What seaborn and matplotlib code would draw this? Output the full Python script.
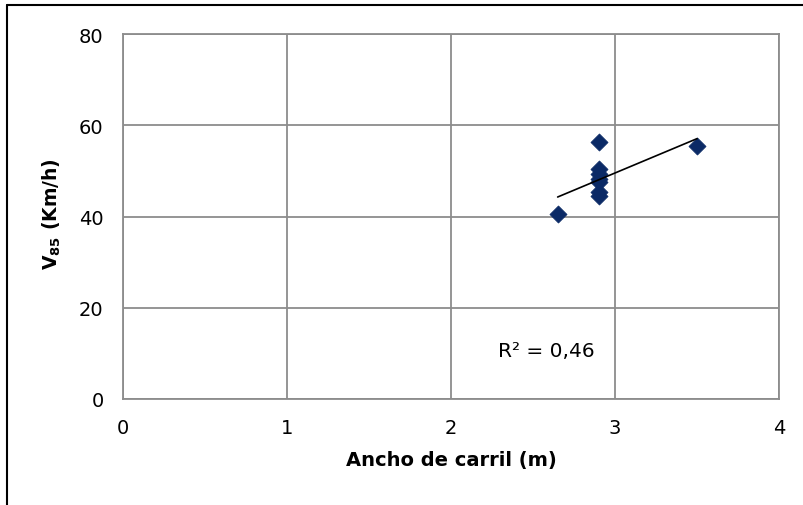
import matplotlib
matplotlib.use("Agg")
import matplotlib.pyplot as plt
import seaborn as sns
import pandas as pd
from matplotlib.lines import Line2D

# Lane width (m) vs. 85th-percentile speed (km/h)
ancho = [2.65, 2.9, 2.9, 2.9, 2.9, 2.9, 2.9, 2.9, 3.5]
v85 = [40.5, 56.3, 50.4, 49.3, 48.2, 47.5, 45.3, 44.6, 55.5]
x_ticks = [0, 1, 2, 3, 4]
y_ticks = [0, 20, 40, 60, 80]
r2_label = "R² = 0,46"

df = pd.DataFrame({"ancho": ancho, "v85": v85})

sns.set_theme(style="white")
plt.rcParams["font.family"] = ["DejaVu Sans"]
plt.rcParams["mathtext.fontset"] = "dejavusans"
plt.rcParams["text.color"] = "black"
plt.rcParams["axes.labelcolor"] = "black"

fig = plt.figure(figsize=(8.04, 5.06), dpi=100)
ax = fig.add_axes([0.153, 0.2095, 0.816, 0.7213])

sns.regplot(data=df, x="ancho", y="v85", ax=ax, ci=None, truncate=True,
            marker="D",
            scatter_kws=dict(s=76, color="#0b2a66", edgecolor="#0b2a66",
                             linewidths=0.5, alpha=1, zorder=3),
            line_kws=dict(color="black", linewidth=1.2, zorder=4))

ax.set_xlim(0, 4)
ax.set_ylim(0, 80)
ax.set_xticks(x_ticks)
ax.set_yticks(y_ticks)
ax.set_xticklabels([str(t) for t in x_ticks], fontsize=14)
ax.set_yticklabels([str(t) for t in y_ticks], fontsize=14)
ax.tick_params(axis="x", length=0, pad=14, colors="black")
ax.tick_params(axis="y", length=0, pad=14, colors="black")

ax.grid(True, color="#8c8c8c", linewidth=1.3)
ax.set_axisbelow(True)
for sp in ax.spines.values():
    sp.set_color("#8c8c8c")
    sp.set_linewidth(1.3)

ax.set_xlabel("Ancho de carril (m)", fontsize=14, fontweight="bold", color="black")
ax.set_ylabel(r"V$_{\mathbf{85}}$ (Km/h)", fontsize=13.5, fontweight="bold", color="black")
ax.xaxis.set_label_coords(0.5, -0.14)
ax.yaxis.set_label_coords(-0.092, 0.51)

ax.text(2.287, 10.7, r2_label, fontsize=14.5, ha="left", va="center", color="black")

# Outer chart frame (left and top edges)
fig.add_artist(Line2D([0.0085, 0.0085], [0.0, 0.989], transform=fig.transFigure,
                      color="black", linewidth=1.5))
fig.add_artist(Line2D([0.0085, 1.0], [0.989, 0.989], transform=fig.transFigure,
                      color="black", linewidth=1.5))

fig.savefig("out.png", dpi=100)
